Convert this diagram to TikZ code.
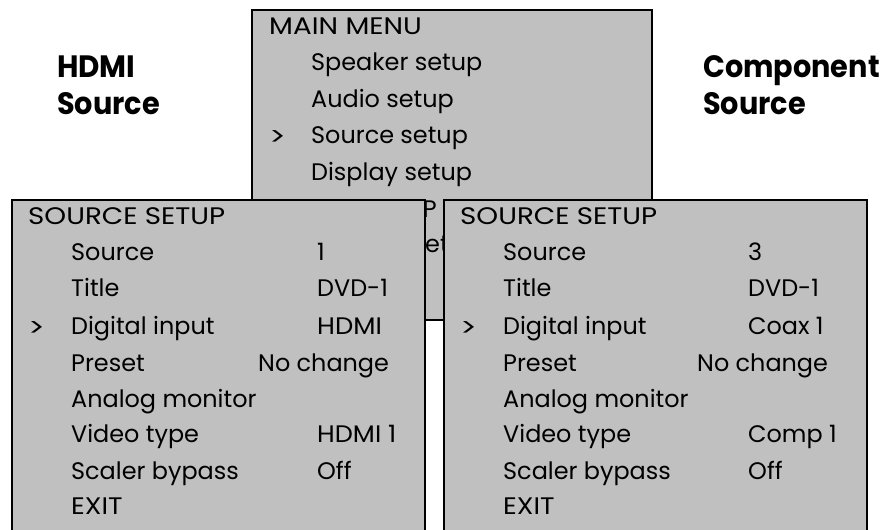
\documentclass[tikz,border=0pt]{standalone}
\usepackage{fontspec}
\setmainfont{Poppins}
\definecolor{panelgray}{HTML}{C0C0C0}
\newcommand{\capsw}[1]{\scalebox{1.16}[1]{#1}}
\newcommand{\selmark}{\raisebox{-2pt}{\scalebox{1.3}[1.05]{>}}}
\tikzset{
  menubox/.style={draw=black, line width=2.5bp, fill=panelgray},
  txt/.style={anchor=base west, inner sep=0pt, font=\fontsize{24}{24}\selectfont},
  head/.style={anchor=base west, inner sep=0pt, font=\fontsize{31}{31}\selectfont\bfseries},
}
\begin{document}
\begin{tikzpicture}[x=1bp,y=-1bp]
\useasboundingbox (0,0) rectangle (890,530);
% headings
\node[head] (h1a) at (57,78) {\scalebox{0.95}[1]{HDMI}};
\node[head] (h1b) at (57,115) {\scalebox{0.93}[1]{Source}};
\node[head] (h2a) at (703,78) {\scalebox{0.93}[1]{Component}};
\node[head] (h2b) at (703,115) {\scalebox{0.93}[1]{Source}};
% main menu
\draw[menubox] (252,10) rectangle (652,320);
\node[txt] (mm) at (269,35) {\capsw{MAIN MENU}};
\node[txt] (m1) at (311,71) {Speaker setup};
\node[txt] (m2) at (311,107.5) {Audio setup};
\node[txt] (m3p) at (269,144) {\selmark};
\node[txt] (m3) at (311,144) {Source setup};
\node[txt] (m4) at (311,181) {Display setup};
\node[txt, anchor=base east] (m5) at (437,218) {P};
\node[txt] (m6) at (425,253) {etu};
% left panel
\draw[menubox] (12,200) rectangle (425,545);
\node[txt] (lt) at (28,225) {\capsw{SOURCE SETUP}};
\node[txt] (l1) at (71,261) {Source};
\node[txt] (l1v) at (317,261) {1};
\node[txt] (l2) at (71,297) {Title};
\node[txt] (l2v) at (317,297) {DVD-1};
\node[txt] (l3p) at (28,335) {\selmark};
\node[txt] (l3) at (71,335) {Digital input};
\node[txt] (l3v) at (317,335) {\scalebox{1.08}[1]{HDMI}};
\node[txt] (l4) at (71,371) {Preset};
\node[txt] (l4v) at (258,371) {No change};
\node[txt] (l5) at (71,407) {Analog monitor};
\node[txt] (l6) at (71,442) {Video type};
\node[txt] (l6v) at (317,442) {\scalebox{1.07}[1]{HDMI 1}};
\node[txt] (l7) at (71,479) {Scaler bypass};
\node[txt] (l7v) at (317,479) {Off};
\node[txt] (l8) at (71,514) {\scalebox{1.12}[1]{EXIT}};
% right panel
\draw[menubox] (444,200) rectangle (867,545);
\node[txt] (rt) at (460,225) {\capsw{SOURCE SETUP}};
\node[txt] (r1) at (503,261) {Source};
\node[txt] (r1v) at (748,261) {3};
\node[txt] (r2) at (503,297) {Title};
\node[txt] (r2v) at (748,297) {DVD-1};
\node[txt] (r3p) at (460,335) {\selmark};
\node[txt] (r3) at (503,335) {Digital input};
\node[txt] (r3v) at (748,335) {Coax 1};
\node[txt] (r4) at (503,371) {Preset};
\node[txt] (r4v) at (697,371) {No change};
\node[txt] (r5) at (503,407) {Analog monitor};
\node[txt] (r6) at (503,442) {Video type};
\node[txt] (r6v) at (748,442) {Comp 1};
\node[txt] (r7) at (503,479) {Scaler bypass};
\node[txt] (r7v) at (748,479) {Off};
\node[txt] (r8) at (503,514) {\scalebox{1.12}[1]{EXIT}};
\end{tikzpicture}
\end{document}
